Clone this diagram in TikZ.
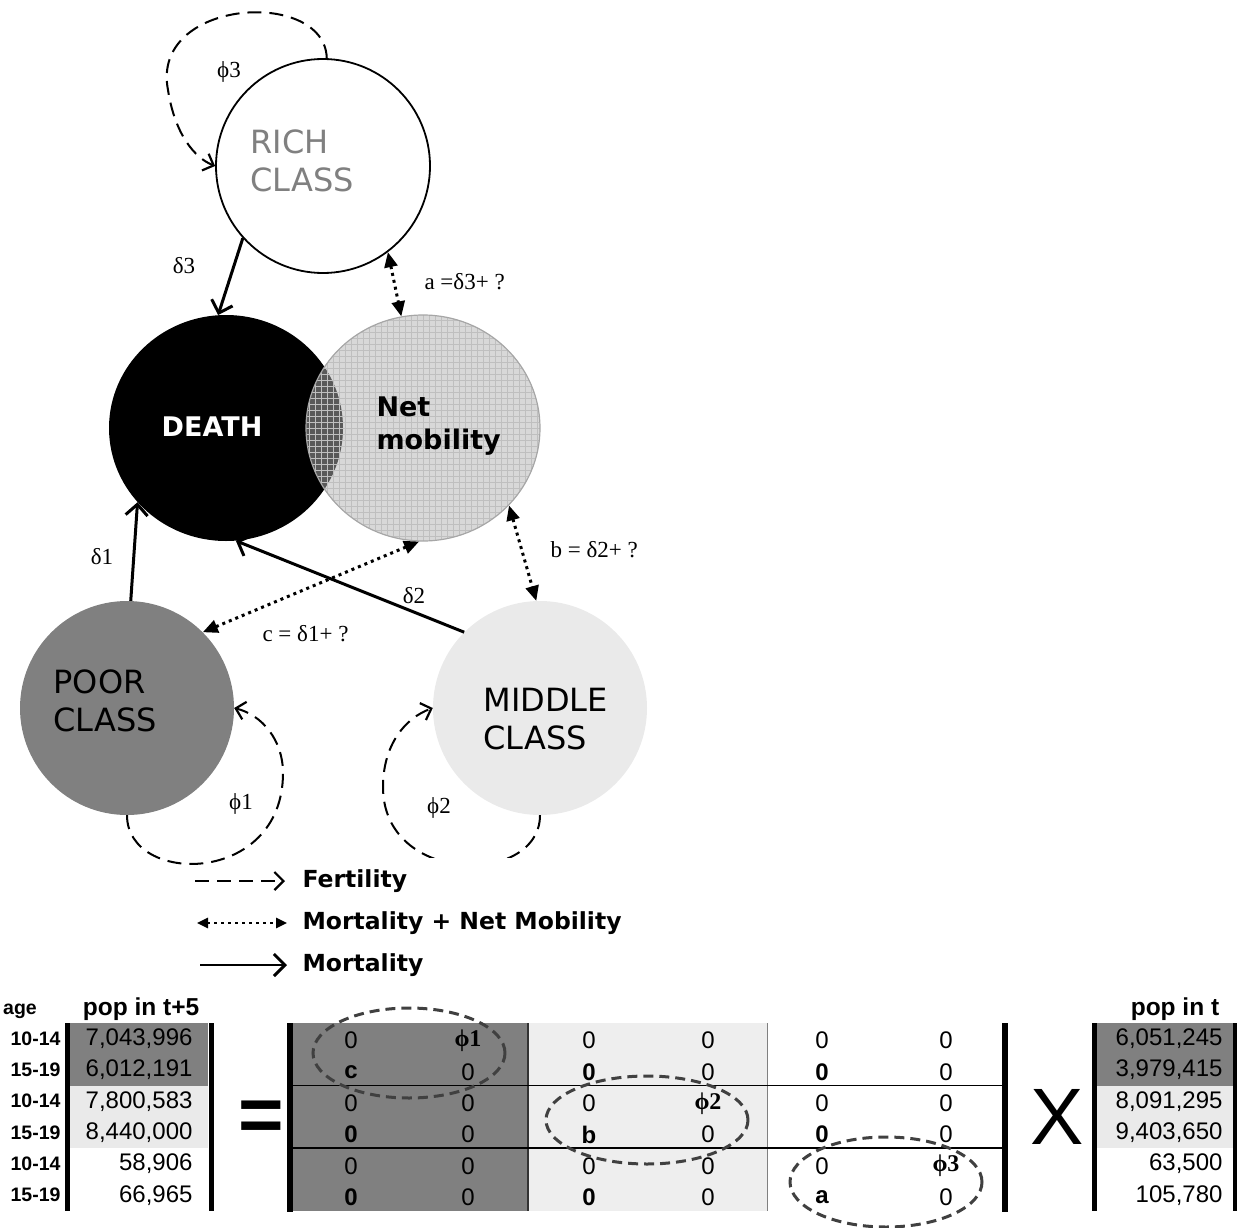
\documentclass[tikz,border=0pt]{standalone}
\usepackage{fontspec}
\usepackage{xcolor}
\usepackage{tikz}
\usetikzlibrary{shapes.geometric, arrows.meta, positioning, calc}

\newfontfamily\verd{DejaVu Sans}
\newfontfamily\tms{Liberation Serif}
\newfontfamily\arl{Liberation Sans}

\definecolor{poorgray}{HTML}{808080}
\definecolor{midgray}{HTML}{EAEAEA}
\definecolor{ringgray}{HTML}{404040}

\newcommand{\phib}[1]{{\tms\bfseries ϕ#1}}

\tikzset{
    classnode/.style={ellipse, minimum width=214pt, minimum height=214pt, inner sep=0pt},
    classtext/.style={anchor=west, align=left, font=\verd\fontsize{32}{38}\selectfont},
    boldtext/.style={font=\verd\bfseries\fontsize{27}{33}\selectfont},
    greek/.style={font=\tms\fontsize{23}{26}\selectfont},
    legendtext/.style={anchor=west, font=\verd\bfseries\fontsize{23.5}{28}\selectfont},
    mort/.style={line width=3pt, -{Straight Barb[length=11pt,width=22pt,line width=3pt]}},
    mob/.style={line width=3pt, dash pattern=on 3pt off 4pt,
        {Triangle[length=15pt,width=13pt]}-{Triangle[length=15pt,width=13pt]}},
    fert/.style={line width=2pt, dash pattern=on 14pt off 8pt,
        -{Straight Barb[length=9pt,width=18pt,line width=2.2pt]}},
    cell/.style={font=\arl\fontsize{24}{28}\selectfont},
    tabhead/.style={font=\arl\bfseries\fontsize{24.5}{28}\selectfont},
    agelab/.style={anchor=east, font=\arl\bfseries\fontsize{19.5}{23}\selectfont},
    ring/.style={draw=ringgray, line width=3pt, dash pattern=on 10pt off 6pt}
}

\begin{document}
\begin{tikzpicture}[x=1pt, y=-1pt]
    \useasboundingbox (0,0) rectangle (1237,1228);

    % Classes
    \node[classnode, draw, line width=1.8pt, fill=white] (rich) at (323,166) {};
    \node[classnode, fill=black, minimum width=234pt, minimum height=226pt] (death) at (226,428) {};
    \node[classnode, minimum width=234pt, minimum height=226pt, draw=gray!70, line width=1.2pt,
        path picture={
            \fill[black!30, opacity=0.5] (path picture bounding box.south west) rectangle (path picture bounding box.north east);
            \draw[gray!50, line width=0.4pt, step=6pt] (path picture bounding box.south west) grid (path picture bounding box.north east);
        }] (net) at (423,428) {};
    \node[classnode, fill=poorgray] (poor) at (127,708) {};
    \node[classnode, fill=midgray] (middle) at (540,708) {};

    \node[classtext, text=gray] (richtxt) at (247,161) {RICH\\CLASS};
    \node[classtext] (poortxt) at (50,701) {POOR\\CLASS};
    \node[classtext] (middletxt) at (480,719) {MIDDLE\\CLASS};
    \node[boldtext, text=white] (deathtxt) at (212,427) {DEATH};
    \node[boldtext, anchor=west, align=left] (nettxt) at (373,426) {Net\\mobility};

    % Mortality
    \draw[mort] (rich.222) -- (death.94);
    \draw[mort] (poor.88) -- (death.220);
    \draw[mort] (middle.135) -- (death.275);
    \node[greek] (d3) at (184,266) {δ3};
    \node[greek] (d1) at (102,557) {δ1};
    \node[greek] (d2) at (414,596) {δ2};

    % Mortality + net mobility
    \draw[mob] (rich.307) -- (net.101);
    \draw[mob] (poor.45) -- (net.268);
    \draw[mob] (net.318) -- (middle.92);
    \node[greek, anchor=west] (alab) at (421,282) {a =δ3+ ?};
    \node[greek, anchor=west] (blab) at (547,550) {b = δ2+ ?};
    \node[greek, anchor=west] (clab) at (259,634) {c = δ1+ ?};

    % Fertility loops
    \draw[fert] (rich.88) .. controls (325,-12) and (150,-2) .. (168,90)
        .. controls (175,135) and (195,158) .. (rich.180);
    \draw[fert] (poor.270) .. controls (127,886) and (283,886) .. (283,773)
        .. controls (283,740) and (262,715) .. (poor.0);
    \begin{scope}
        \clip (300,600) rectangle (700,857);
        \draw[fert] (middle.270) .. controls (540,886) and (383,886) .. (383,787)
            .. controls (383,745) and (405,718) .. (middle.180);
    \end{scope}
    \node[greek] (f3) at (229,72) {ϕ3};
    \node[greek] (f1) at (241,804) {ϕ1};
    \node[greek] (f2) at (439,808) {ϕ2};

    % Legend
    \node[legendtext] (lfert) at (299,881) {Fertility};
    \node[legendtext] (lmob) at (299,923) {Mortality + Net Mobility};
    \node[legendtext] (lmort) at (299,965) {Mortality};
    \coordinate (lf) at (195,881);
    \coordinate (lm) at (197,923);
    \coordinate (ld) at (200,965);
    \draw[fert] (lf) -- ([xshift=-14pt]lfert.west);
    \draw[mob, line width=2.5pt, {Triangle[length=11pt,width=10pt]}-{Triangle[length=11pt,width=10pt]}] (lm) -- ([xshift=-12pt]lmob.west);
    \draw[mort, line width=2.5pt] (ld) -- ([xshift=-12pt]lmort.west);

    % Left vector: pop in t+5
    \node[agelab, anchor=center] (agehead) at (20,1011) {age};
    \node[tabhead] (lefthead) at (141,1009) {pop in t+5};
    \fill[poorgray] (70,1023) rectangle (208,1085.6);
    \fill[midgray] (70,1085.6) rectangle (208,1148.2);
    \foreach \i/\age/\val in {
        1/10-14/{7,043,996}, 2/15-19/{6,012,191}, 3/10-14/{7,800,583},
        4/15-19/{8,440,000}, 5/10-14/{58,906}, 6/15-19/{66,965}
    } {
        \pgfmathsetmacro{\y}{1023+31.3*(\i-0.5)}
        \node[agelab] at (64,\y) {\age};
        \node[cell, anchor=east] at (196,\y) {\val};
    }
    \draw[line width=5pt] (67.5,1023) -- (67.5,1211);
    \draw[line width=5pt] (211,1023) -- (211,1211);

    \node[font=\arl\bfseries\fontsize{78}{82}\selectfont] (eq) at (261,1121) {=};

    % Matrix
    \fill[poorgray] (293,1023) rectangle (528,1211);
    \fill[midgray!80!white] (528,1023) rectangle (767,1211);
    \draw[line width=1.2pt, black!80] (528,1023) -- (528,1211);
    \draw[line width=0.8pt, gray] (767,1023) -- (767,1211);
    \draw[line width=1.5pt] (293,1085.6) -- (1003,1085.6);
    \draw[line width=1.5pt] (293,1148.2) -- (1003,1148.2);
    \foreach \i/\ca/\cb/\cc/\cd/\ce/\cf in {
        1/0/{\phib{1}}/0/0/0/0,
        2/{\textbf{c}}/0/{\textbf{0}}/0/{\textbf{0}}/0,
        3/0/0/0/{\phib{2}}/0/0,
        4/{\textbf{0}}/0/{\textbf{b}}/0/{\textbf{0}}/0,
        5/0/0/0/0/0/{\phib{3}},
        6/{\textbf{0}}/0/{\textbf{0}}/0/{\textbf{a}}/0
    } {
        \pgfmathsetmacro{\y}{1025+31.3*(\i-0.5)}
        \node[cell] at (351,\y) {\ca};
        \node[cell] at (468,\y) {\cb};
        \node[cell] at (589,\y) {\cc};
        \node[cell] at (708,\y) {\cd};
        \node[cell] at (822,\y) {\ce};
        \node[cell] at (946,\y) {\cf};
    }
    \draw[line width=5.5pt] (290,1023) -- (290,1212);
    \draw[line width=5.5pt] (1005,1023) -- (1005,1212);

    % Highlighted blocks
    \draw[ring] (409,1053) ellipse [x radius=96pt, y radius=45pt];
    \draw[ring] (647,1120) ellipse [x radius=101pt, y radius=44pt];
    \draw[ring] (886,1182) ellipse [x radius=96pt, y radius=45pt];

    \node[font=\arl\fontsize{80}{84}\selectfont] (times) at (1057,1117) {X};

    % Right vector: pop in t
    \node[tabhead] (righthead) at (1175,1009) {pop in t};
    \fill[poorgray] (1097,1023) rectangle (1233,1085.6);
    \fill[midgray] (1097,1085.6) rectangle (1233,1148.2);
    \foreach \i/\val in {
        1/{6,051,245}, 2/{3,979,415}, 3/{8,091,295},
        4/{9,403,650}, 5/{63,500}, 6/{105,780}
    } {
        \pgfmathsetmacro{\y}{1023+31.3*(\i-0.5)}
        \node[cell, anchor=east] at (1226,\y) {\val};
    }
    \draw[line width=5pt] (1094.5,1023) -- (1094.5,1211);
    \draw[line width=5pt] (1235,1023) -- (1235,1211);
\end{tikzpicture}
\end{document}
